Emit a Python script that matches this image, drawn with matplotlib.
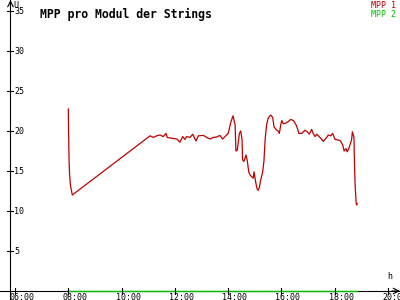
import matplotlib
matplotlib.use("Agg")
import matplotlib.pyplot as plt

# MPP 1 (Volt) over the day, hours as decimals
mpp1_t = [8.00, 8.01, 8.03, 8.05, 8.08, 8.15, 11.07, 11.19, 11.32, 11.44, 11.56, 11.67,
          11.71, 11.88, 12.07, 12.19, 12.29, 12.38, 12.44, 12.57, 12.67, 12.79, 12.88,
          13.07, 13.19, 13.32, 13.44, 13.57, 13.69, 13.79, 13.88, 14.00, 14.09, 14.18,
          14.26, 14.29, 14.34, 14.42, 14.47, 14.52, 14.54, 14.59, 14.67, 14.72, 14.77,
          14.82, 14.88, 14.94, 14.97, 15.04, 15.09, 15.13, 15.17, 15.22, 15.29, 15.34,
          15.39, 15.44, 15.50, 15.59, 15.67, 15.72, 15.79, 15.87, 15.92, 15.97, 16.01,
          16.07, 16.17, 16.26, 16.35, 16.45, 16.55, 16.60, 16.65, 16.76, 16.88, 16.97,
          17.04, 17.13, 17.19, 17.26, 17.32, 17.44, 17.57, 17.67, 17.76, 17.85, 17.92,
          18.01, 18.09, 18.20, 18.30, 18.35, 18.42, 18.47, 18.54, 18.63, 18.66, 18.72,
          18.73, 18.76, 18.80, 18.82, 18.84]
mpp1_v = [22.75, 19.9, 16.1, 14.5, 13.2, 12.0, 19.4, 19.2, 19.4, 19.5, 19.3, 19.7,
          19.2, 19.1, 19.0, 18.6, 19.3, 18.95, 19.3, 19.2, 19.6, 18.75, 19.4,
          19.45, 19.2, 19.0, 19.2, 19.25, 19.45, 19.0, 19.3, 19.7, 21.0, 21.9,
          20.75, 17.5, 17.6, 19.7, 20.0, 18.9, 16.4, 16.2, 17.0, 16.2, 14.9,
          14.5, 14.3, 14.1, 14.9, 13.45, 12.7, 12.6, 12.95, 13.9, 14.8, 16.2,
          19.1, 20.75, 21.6, 22.0, 21.7, 20.5, 20.2, 20.0, 19.7, 20.75, 21.3,
          20.9, 21.0, 21.2, 21.45, 21.3, 20.75, 20.3, 19.7, 19.7, 20.1, 19.9,
          19.6, 20.2, 19.7, 19.3, 19.6, 19.2, 18.7, 19.1, 19.5, 19.4, 19.7,
          18.95, 18.9, 18.8, 18.25, 17.5, 17.8, 17.4, 17.95, 18.9, 19.9, 19.2,
          17.2, 13.45, 11.05, 10.75, 10.9]

# MPP 2 stays at zero
mpp2_t = [8.00, 18.85]
mpp2_v = [0, 0]

x_ticks = [6, 8, 10, 12, 14, 16, 18, 20]
x_labels = ["06:00", "08:00", "10:00", "12:00", "14:00", "16:00", "18:00", "20:00"]
y_ticks = [5, 10, 15, 20, 25, 30, 35]

red = "#c00000"
green = "#00c000"
mono = "DejaVu Sans Mono"

fig = plt.figure(figsize=(4, 3), dpi=100)
ax = fig.add_axes([0, 0, 1, 1])
x0, x1 = 5.437, 20.447
y0, y1 = -1.125, 36.375
ax.set_xlim(x0, x1)
ax.set_ylim(y0, y1)
ax.axis("off")

xa = 5.83   # where the y axis sits
dx = 1 / 26.65  # one pixel in hours
dy = 1 / 8.0    # one pixel in volts

# axes lines with arrows
ax.plot([x0, x1], [0, 0], color="black", lw=0.8)
ax.plot([xa, xa], [y0, y1], color="black", lw=0.8)
ax.annotate("", xy=(x1, 0), xytext=(x1 - 8 * dx, 0),
            arrowprops=dict(arrowstyle="->", lw=0.8, color="black", shrinkA=0, shrinkB=0))
ax.annotate("", xy=(xa, y1), xytext=(xa, y1 - 8 * dy),
            arrowprops=dict(arrowstyle="->", lw=0.8, color="black", shrinkA=0, shrinkB=0))

ax.plot(mpp2_t, mpp2_v, color=green, lw=1.0, zorder=3)
ax.plot(mpp1_t, mpp1_v, color=red, lw=0.9, zorder=4)

for t, lab in zip(x_ticks, x_labels):
    ax.plot([t, t], [-3 * dy, 3 * dy], color="black", lw=0.8, zorder=5)
    ax.text(t - 6 * dx, -2 * dy, lab, fontsize=6, family=mono,
            ha="left", va="top")
for v in y_ticks:
    ax.plot([xa - 3 * dx, xa + 3 * dx], [v, v], color="black", lw=0.8)
    ax.text(xa + 4 * dx, v, str(v), fontsize=6, family=mono,
            ha="left", va="center")

ax.text(xa + 3 * dx, y1 - 1 * dy, "U", fontsize=6, family=mono, ha="left", va="top")
ax.text(x1 - 13 * dx, 1.2, "h", fontsize=6, family=mono, ha="left", va="bottom")

fig.text(0.1, 0.975, "MPP pro Modul der Strings", fontsize=8.3, family=mono,
         fontweight="bold", ha="left", va="top")
fig.text(0.99, 0.995, "MPP 1", fontsize=6, family=mono, color=red, ha="right", va="top")
fig.text(0.99, 0.968, "MPP 2", fontsize=6, family=mono, color=green, ha="right", va="top")

fig.savefig("out.png", dpi=100)
